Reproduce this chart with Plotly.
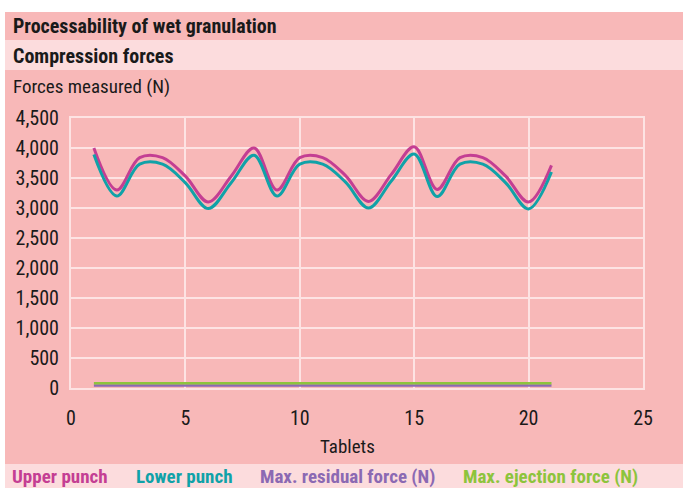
import plotly.graph_objects as go

# tablet numbers
tablets = list(range(1, 22))

# forces (N)
upper_punch = [4000, 3300, 3840, 3840, 3530, 3100, 3530, 4000, 3300, 3840, 3840,
               3540, 3110, 3560, 4020, 3310, 3840, 3840, 3530, 3100, 3710]
lower_punch = [3890, 3200, 3730, 3730, 3420, 2990, 3420, 3880, 3200, 3730, 3730,
               3430, 3000, 3450, 3900, 3190, 3730, 3730, 3420, 2985, 3600]
residual_force = [40] * 21
ejection_force = [80] * 21

series_names = ["Upper punch", "Lower punch", "Max. residual force (N)", "Max. ejection force (N)"]
colors = ["#c43e93", "#10a2a8", "#8b69b3", "#8dc43c"]
legend_x_px = [10, 134, 258, 461]

PINK = "#f8b8b8"
LIGHT = "#fcdcdd"
GRID = "#fde3e3"
FONT = "Liberation Sans Narrow, Roboto Condensed, DejaVu Sans Condensed, Roboto, sans-serif"

# plot area in pixels
L, R, T, B = 71, 643, 118, 388
W, H = 683, 488


def px(x):
    return (x - L) / (R - L)


def py(y):
    return (B - y) / (B - T)


fig = go.Figure()

data = [upper_punch, lower_punch, residual_force, ejection_force]
widths = [3, 3, 2.5, 2.5]
for name, vals, c, w in zip(series_names, data, colors, widths):
    fig.add_trace(go.Scatter(
        x=tablets, y=vals, name=name, mode="lines",
        line=dict(color=c, width=w, shape="spline", smoothing=1.0),
        showlegend=False
    ))

shapes = [
    dict(type="rect", xref="paper", yref="paper", x0=px(5), x1=px(W), y0=py(464), y1=py(12),
         fillcolor=PINK, line_width=0, layer="below"),
    dict(type="rect", xref="paper", yref="paper", x0=px(5), x1=px(W), y0=py(70), y1=py(40),
         fillcolor=LIGHT, line_width=0, layer="below"),
    dict(type="rect", xref="paper", yref="paper", x0=px(5), x1=px(W), y0=py(H), y1=py(464),
         fillcolor=LIGHT, line_width=0, layer="below"),
]

annotations = [
    dict(text="<b>Processability of wet granulation</b>", x=px(11), y=py(26), size=20),
    dict(text="<b>Compression forces</b>", x=px(11), y=py(56), size=20),
    dict(text="Forces measured (N)", x=px(11), y=py(86), size=19),
]
for a in annotations:
    size = a.pop("size")
    a.update(xref="paper", yref="paper", xanchor="left", yanchor="middle", showarrow=False,
             font=dict(family=FONT, size=size, color="#1a1a1a"))

annotations.append(dict(text="Tablets", xref="paper", yref="paper", x=px(347), y=py(446),
                        xanchor="center", yanchor="middle", showarrow=False,
                        font=dict(family=FONT, size=19, color="#1a1a1a")))

for name, c, lx in zip(series_names, colors, legend_x_px):
    annotations.append(dict(text="<b>" + name + "</b>", xref="paper", yref="paper",
                            x=px(lx), y=py(477), xanchor="left", yanchor="middle",
                            showarrow=False, font=dict(family=FONT, size=19, color=c)))

fig.update_layout(
    width=W, height=H,
    margin=dict(l=L, r=W - R, t=T, b=H - B),
    paper_bgcolor="white",
    plot_bgcolor=PINK,
    shapes=shapes,
    annotations=annotations,
    xaxis=dict(range=[0, 25], dtick=5, showgrid=True, gridcolor=GRID, gridwidth=2,
               zeroline=False, showline=True, mirror=True, linecolor=GRID, linewidth=2,
               ticks="outside", ticklen=11, tickcolor="rgba(0,0,0,0)",
               tickfont=dict(family=FONT, size=20, color="#1a1a1a")),
    yaxis=dict(range=[0, 4500], dtick=500, tickformat=",d", showgrid=True, gridcolor=GRID,
               gridwidth=2, zeroline=False, showline=True, mirror=True, linecolor=GRID,
               linewidth=2, ticks="outside", ticklen=6, tickcolor="rgba(0,0,0,0)",
               tickfont=dict(family=FONT, size=20, color="#1a1a1a")),
)

fig.write_html("out.html", config={"displayModeBar": False},
               post_script="document.body.style.margin='0px';")
